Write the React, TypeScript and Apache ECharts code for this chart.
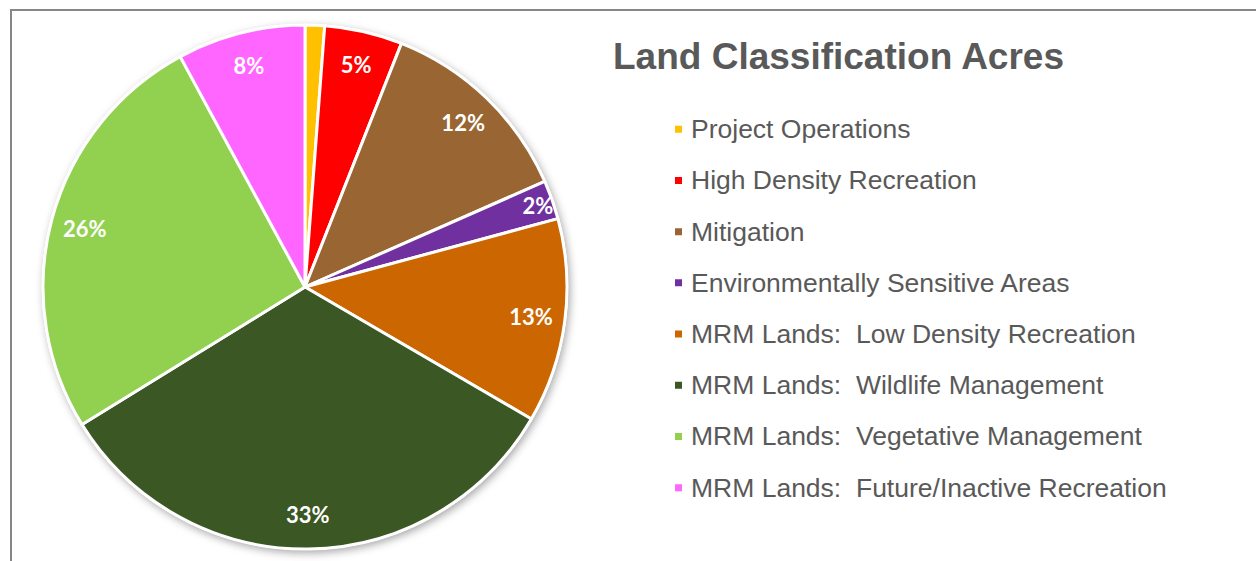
import React, { useEffect, useRef } from "react";
import * as echarts from "echarts";

const categories = [
  "Project Operations",
  "High Density Recreation",
  "Mitigation",
  "Environmentally Sensitive Areas",
  "MRM Lands:  Low Density Recreation",
  "MRM Lands:  Wildlife Management",
  "MRM Lands:  Vegetative Management",
  "MRM Lands:  Future/Inactive Recreation",
];
const values = [1.2, 4.8, 12.4, 2.4, 12.6, 32.8, 25.9, 7.9];
const colors = ["#FFC000", "#FF0000", "#996633", "#7030A0", "#CC6600", "#3A5724", "#92D050", "#FF66FF"];
const hiddenLabels = ["Project Operations"];
const titleText = "Land Classification Acres";

export default function App() {
  const ref = useRef<HTMLDivElement>(null);
  useEffect(() => {
    if (!ref.current) return;
    const chart = echarts.init(ref.current, null, { renderer: "svg" });
    const center = [305, 287];
    const mainData = categories.map((name, i) => ({
      name,
      value: values[i],
      itemStyle: { color: colors[i] },
    }));
    const labelData = categories.map((name, i) => ({
      name,
      value: values[i],
      itemStyle: { color: "rgba(0,0,0,0)" },
      label: { show: hiddenLabels.indexOf(name) < 0 },
    }));
    chart.setOption({
      animation: false,
      title: {
        text: titleText,
        left: 608,
        top: 33,
        textStyle: {
          fontFamily: "Arial",
          fontWeight: "bold",
          fontSize: 37,
          color: "#595959",
          lineHeight: 37,
        },
      },
      legend: {
        orient: "vertical",
        left: 668,
        top: 110.75,
        itemWidth: 9,
        itemHeight: 9,
        itemGap: 24.2,
        icon: "rect",
        selectedMode: false,
        data: categories,
        textStyle: {
          fontFamily: "Arial",
          fontSize: 26.5,
          lineHeight: 26.5,
          color: "#595959",
          padding: [0, 0, 0, 3],
        },
      },
      graphic: [
        {
          type: "rect",
          shape: { x: 11, y: 10, width: 1300, height: 600 },
          style: { fill: "none", stroke: "#868686", lineWidth: 2 },
          silent: true,
        },
      ],
      series: [
        {
          type: "pie",
          z: 3,
          center,
          radius: [0, 262],
          startAngle: 90,
          clockwise: true,
          silent: true,
          label: { show: false },
          labelLine: { show: false },
          itemStyle: { borderColor: "#ffffff", borderWidth: 3 },
          emphasis: { disabled: true },
          data: mainData,
        },
        {
          type: "pie",
          z: 1,
          center,
          radius: [0, 263],
          silent: true,
          label: { show: false },
          labelLine: { show: false },
          itemStyle: {
            color: "#ffffff",
            shadowBlur: 8,
            shadowColor: "rgba(0,0,0,0.35)",
            shadowOffsetX: 2,
            shadowOffsetY: 3,
          },
          emphasis: { disabled: true },
          data: [{ name: "__shadow", value: 1 }],
        },
        {
          type: "pie",
          z: 4,
          center,
          radius: [188, 262],
          startAngle: 90,
          clockwise: true,
          silent: true,
          percentPrecision: 0,
          labelLine: { show: false },
          label: {
            show: true,
            position: "inside",
            formatter: "{d}%",
            color: "#ffffff",
            fontFamily: "Lato",
            fontWeight: "bold",
            fontSize: 22,
          },
          labelLayout: (params: any) =>
            params.dataIndex === 3 ? { dx: 18, dy: -6 } : {},
          emphasis: { disabled: true },
          data: labelData,
        },
      ],
    });
    return () => chart.dispose();
  }, []);
  return (
    <div
      ref={ref}
      style={{ position: "absolute", left: 0, top: 0, width: 1256, height: 561, background: "#ffffff" }}
    />
  );
}
